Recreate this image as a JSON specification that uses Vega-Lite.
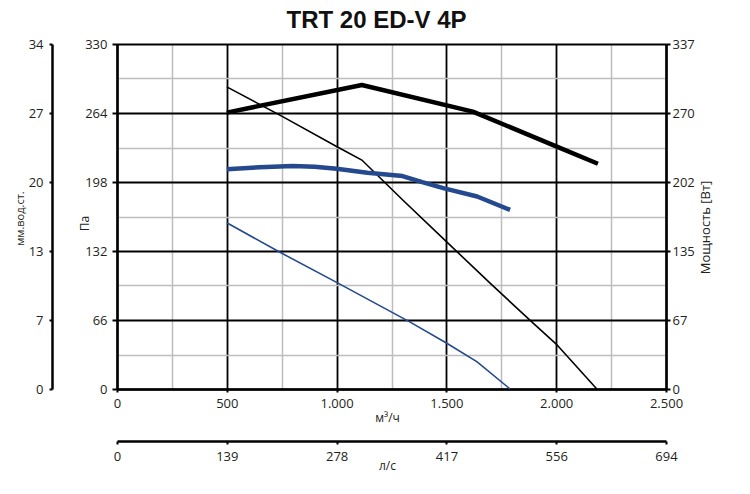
{
  "$schema": "https://vega.github.io/schema/vega-lite/v6.json",
  "autosize": {"type": "none"},
  "padding": {"left": 117, "top": 44, "right": 84, "bottom": 105},
  "width": 549,
  "height": 345,
  "title": {
    "text": "TRT 20 ED-V 4P",
    "font": "Liberation Sans",
    "fontSize": 24,
    "fontWeight": "bold",
    "color": "#111",
    "anchor": "middle",
    "frame": "group",
    "baseline": "bottom",
    "offset": 10,
    "dx": -15,
    "dy": 29
  },
  "datasets": {
    "curves": [
      {"flow": 500, "value": 289, "curve": "pressure", "speed": "high"},
      {"flow": 750, "value": 261, "curve": "pressure", "speed": "high"},
      {"flow": 1000, "value": 232, "curve": "pressure", "speed": "high"},
      {"flow": 1115, "value": 219, "curve": "pressure", "speed": "high"},
      {"flow": 1300, "value": 181, "curve": "pressure", "speed": "high"},
      {"flow": 1500, "value": 141, "curve": "pressure", "speed": "high"},
      {"flow": 1700, "value": 101, "curve": "pressure", "speed": "high"},
      {"flow": 1890, "value": 64, "curve": "pressure", "speed": "high"},
      {"flow": 2000, "value": 43, "curve": "pressure", "speed": "high"},
      {"flow": 2185, "value": 0, "curve": "pressure", "speed": "high"},
      {"flow": 500, "value": 159, "curve": "pressure", "speed": "low"},
      {"flow": 740, "value": 131, "curve": "pressure", "speed": "low"},
      {"flow": 1000, "value": 102, "curve": "pressure", "speed": "low"},
      {"flow": 1335, "value": 64, "curve": "pressure", "speed": "low"},
      {"flow": 1500, "value": 44, "curve": "pressure", "speed": "low"},
      {"flow": 1640, "value": 26, "curve": "pressure", "speed": "low"},
      {"flow": 1790, "value": 0, "curve": "pressure", "speed": "low"},
      {"flow": 500, "value": 270, "curve": "power", "speed": "high"},
      {"flow": 1115, "value": 297, "curve": "power", "speed": "high"},
      {"flow": 1620, "value": 271, "curve": "power", "speed": "high"},
      {"flow": 2000, "value": 237, "curve": "power", "speed": "high"},
      {"flow": 2190, "value": 220, "curve": "power", "speed": "high"},
      {"flow": 500, "value": 214.6, "curve": "power", "speed": "low"},
      {"flow": 650, "value": 216.6, "curve": "power", "speed": "low"},
      {"flow": 800, "value": 217.8, "curve": "power", "speed": "low"},
      {"flow": 900, "value": 217, "curve": "power", "speed": "low"},
      {"flow": 1000, "value": 215.2, "curve": "power", "speed": "low"},
      {"flow": 1140, "value": 211.3, "curve": "power", "speed": "low"},
      {"flow": 1300, "value": 208, "curve": "power", "speed": "low"},
      {"flow": 1390, "value": 202, "curve": "power", "speed": "low"},
      {"flow": 1490, "value": 196, "curve": "power", "speed": "low"},
      {"flow": 1640, "value": 188, "curve": "power", "speed": "low"},
      {"flow": 1790, "value": 175, "curve": "power", "speed": "low"}
    ],
    "mm": [{"mm": 0}, {"mm": 33.65}],
    "ls": [{"ls": 0}, {"ls": 694.4}]
  },
  "layer": [
    {
      "data": {"name": "curves"},
      "transform": [{"filter": "datum.curve === 'pressure'"}],
      "mark": {"type": "line", "strokeWidth": 1.6},
      "encoding": {
        "x": {
          "field": "flow",
          "type": "quantitative",
          "scale": {"domain": [0, 2500], "nice": false},
          "axis": {
            "orient": "bottom",
            "values": [0, 250, 500, 750, 1000, 1250, 1500, 1750, 2000, 2250, 2500],
            "labelExpr": "datum.value % 500 === 0 ? replace(format(datum.value, ','), ',', '.') : ''",
            "labelFlush": false,
            "labelOverlap": false,
            "grid": true,
            "gridColor": {"condition": {"test": "datum.value % 500 === 0", "value": "black"}, "value": "#bdbdbd"},
            "gridWidth": {"condition": {"test": "datum.value % 500 === 0", "value": 1.8}, "value": 1.5},
            "tickColor": {"condition": {"test": "datum.value % 500 === 0", "value": "black"}, "value": "transparent"},
            "tickSize": 3,
            "labelPadding": 5,
            "title": "м³/ч",
            "titleFontSize": 12,
            "titleX": 270,
            "titleY": 28,
            "titleAlign": "center",
            "titleBaseline": "middle"
          }
        },
        "y": {
          "field": "value",
          "type": "quantitative",
          "scale": {"domain": [0, 330], "nice": false},
          "axis": {
            "orient": "left",
            "values": [0, 33, 66, 99, 132, 165, 198, 231, 264, 297, 330],
            "labelExpr": "datum.value % 66 === 0 ? datum.label : ''",
            "labelOverlap": false,
            "grid": true,
            "gridColor": {"condition": {"test": "datum.value % 66 === 0", "value": "black"}, "value": "#bdbdbd"},
            "gridWidth": {"condition": {"test": "datum.value % 66 === 0", "value": 1.8}, "value": 1.5},
            "tickColor": {"condition": {"test": "datum.value % 66 === 0", "value": "black"}, "value": "transparent"},
            "tickSize": 5,
            "labelPadding": 5,
            "title": "Па",
            "titleFontSize": 12,
            "titleAngle": 270,
            "titleX": -33,
            "titleY": 179,
            "titleAlign": "center",
            "titleBaseline": "middle"
          }
        },
        "color": {
          "field": "speed",
          "type": "nominal",
          "scale": {"domain": ["high", "low"], "range": ["black", "#24498f"]},
          "legend": null
        }
      }
    },
    {
      "data": {"name": "curves"},
      "transform": [{"filter": "datum.curve === 'power'"}],
      "mark": {"type": "line", "strokeWidth": 4.5, "strokeJoin": "round"},
      "encoding": {
        "x": {
          "field": "flow",
          "type": "quantitative",
          "scale": {"domain": [0, 2500], "nice": false},
          "axis": null
        },
        "y": {
          "field": "value",
          "type": "quantitative",
          "scale": {"domain": [0, 337], "nice": false},
          "axis": {
            "orient": "right",
            "values": [0, 67.4, 134.8, 202.2, 269.6, 337],
            "format": ".0f",
            "labelOverlap": false,
            "grid": false,
            "tickSize": 4,
            "labelPadding": 2,
            "title": "Мощность [Вт]",
            "titleFontSize": 13,
            "titleAngle": 270,
            "titleX": 39,
            "titleY": 183,
            "titleAlign": "center",
            "titleBaseline": "middle"
          }
        },
        "color": {
          "field": "speed",
          "type": "nominal",
          "scale": {"domain": ["high", "low"], "range": ["black", "#24498f"]},
          "legend": null
        }
      }
    },
    {
      "data": {"name": "mm"},
      "mark": {"type": "point", "opacity": 0},
      "encoding": {
        "y": {
          "field": "mm",
          "type": "quantitative",
          "scale": {"domain": [0, 33.65], "nice": false},
          "axis": {
            "orient": "left",
            "offset": 65,
            "values": [0, 6.73, 13.46, 20.19, 26.92, 33.65],
            "format": ".0f",
            "labelOverlap": false,
            "grid": false,
            "tickSize": 3,
            "labelPadding": 6,
            "title": "мм.вод.ст.",
            "titleFontSize": 11,
            "titleAngle": 270,
            "titleX": -32,
            "titleY": 174,
            "titleAlign": "center",
            "titleBaseline": "middle"
          }
        }
      }
    },
    {
      "data": {"name": "ls"},
      "mark": {"type": "point", "opacity": 0},
      "encoding": {
        "x": {
          "field": "ls",
          "type": "quantitative",
          "scale": {"domain": [0, 694.4], "nice": false},
          "axis": {
            "orient": "bottom",
            "offset": 52,
            "values": [0, 138.9, 277.8, 416.7, 555.6, 694.4],
            "format": ".0f",
            "labelFlush": false,
            "labelOverlap": false,
            "grid": false,
            "tickSize": 3,
            "labelPadding": 6,
            "title": "л/с",
            "titleFontSize": 12,
            "titleX": 270,
            "titleY": 24,
            "titleAlign": "center",
            "titleBaseline": "middle"
          }
        }
      }
    }
  ],
  "resolve": {"scale": {"x": "independent", "y": "independent", "color": "shared"}},
  "config": {
    "view": {"stroke": null},
    "axis": {
      "labelFont": "Open Sans",
      "labelFontSize": 13,
      "labelColor": "#231f20",
      "titleFont": "Open Sans",
      "titleFontWeight": "normal",
      "titleColor": "#231f20",
      "domainColor": "black",
      "domainWidth": 2.5,
      "tickColor": "black",
      "tickWidth": 2
    }
  }
}
